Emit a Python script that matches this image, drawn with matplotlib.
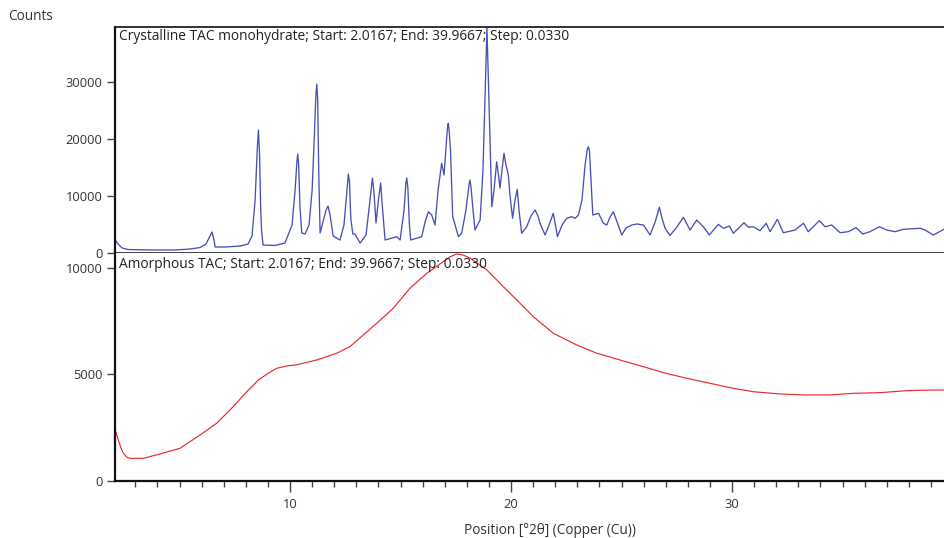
import matplotlib
matplotlib.use('Agg')
import matplotlib.pyplot as plt
from matplotlib.ticker import MultipleLocator

# --------- DATA -----------------------------------

cryst_x = [2.02, 2.22, 2.40, 2.67, 3.67, 4.80, 5.48, 5.93, 6.20, 6.38, 6.47, 6.56, 6.61, 7.06, 7.74, 8.10,
           8.28, 8.42, 8.52, 8.57, 8.62, 8.67, 8.71, 8.78, 9.32, 9.77, 10.09, 10.23, 10.31, 10.35, 10.39,
           10.45, 10.53, 10.68, 10.86, 11.00, 11.11, 11.17, 11.21, 11.25, 11.30, 11.36, 11.49, 11.63, 11.72,
           11.81, 11.95, 12.26, 12.44, 12.58, 12.64, 12.69, 12.75, 12.84, 12.94, 13.17, 13.44, 13.62, 13.73,
           13.79, 13.89, 14.00, 14.10, 14.19, 14.30, 14.83, 14.98, 15.16, 15.24, 15.28, 15.33, 15.40, 15.46,
           15.96, 16.11, 16.26, 16.41, 16.56, 16.70, 16.86, 16.97, 17.08, 17.13, 17.16, 17.20, 17.26, 17.36,
           17.62, 17.77, 17.96, 18.10, 18.14, 18.19, 18.28, 18.37, 18.60, 18.73, 18.82, 18.91, 19.00, 19.13,
           19.23, 19.35, 19.43, 19.50, 19.59, 19.68, 19.77, 19.88, 19.95, 20.07, 20.18, 20.28, 20.36, 20.48,
           20.71, 20.90, 21.09, 21.22, 21.31, 21.54, 21.72, 21.91, 22.01, 22.10, 22.31, 22.52, 22.75, 22.90,
           23.05, 23.21, 23.35, 23.45, 23.50, 23.55, 23.62, 23.70, 23.96, 24.18, 24.33, 24.48, 24.63, 24.80,
           25.01, 25.20, 25.46, 25.70, 25.99, 26.29, 26.52, 26.71, 26.83, 26.97, 27.19, 27.47, 27.80, 28.10,
           28.40, 28.70, 28.97, 29.38, 29.61, 29.88, 30.06, 30.54, 30.74, 30.96, 31.27, 31.54, 31.72, 32.05,
           32.32, 32.85, 33.23, 33.45, 33.95, 34.21, 34.51, 34.89, 35.26, 35.61, 35.91, 36.24, 36.67, 37.00,
           37.38, 37.75, 38.51, 38.73, 39.11, 39.59, 39.97]
cryst_y = [2630, 1580, 880, 610, 530, 530, 700, 960, 1580, 2980, 3680, 2280, 1050, 1050, 1230, 1580,
           2980, 9300, 18500, 21570, 17500, 8000, 4030, 1400, 1320, 1750, 4900, 11050, 16000, 17360, 15500,
           8000, 3510, 3330, 4910, 11050, 21570, 27800, 29640, 27000, 14000, 3510, 5440, 7540, 8240,
           6670, 2980, 2280, 4910, 11050, 13860, 12500, 6000, 3330, 3330, 1750, 3160, 9300, 13150,
           11000, 5260, 9300, 12280, 7540, 2280, 2860, 2280, 7540, 12200, 13150, 11500, 5000, 2280,
           2860, 5440, 7240, 6670, 4910, 11050, 15730, 13680, 19820, 22200, 22750, 21500, 18070, 6370,
           2860, 3510, 7540, 12000, 12800, 11500, 7540, 4030, 5790, 14560, 26840, 39500, 26840, 8120,
           11050, 16010, 13680, 11400, 14560, 17490, 15440, 13680, 10170, 6090, 9300, 11170, 7540, 3460,
           4610, 6490, 7540, 6490, 5210, 3160, 4910, 6960, 4910, 2860, 4910, 6090, 6370, 6090,
           6670, 9300, 15440, 18200, 18650, 17800, 12500, 6670, 6960, 5210, 4910, 6310, 7240, 5440,
           3160, 4390, 4910, 5090, 4910, 3160, 5440, 8020, 6140, 4330, 3070, 4390, 6260, 4030,
           5790, 4610, 3160, 5030, 4330, 4740, 3460, 5310, 4510, 4610, 3910, 5210, 3740, 5910,
           3560, 4030, 5210, 3740, 5670, 4610, 4910, 3560, 3740, 4440, 3330, 3740, 4610, 4030,
           3740, 4160, 4330, 4030, 3160, 4160, 4200]

amorph_x = [2.02, 2.10, 2.23, 2.35, 2.46, 2.60, 2.76, 3.36, 4.12, 5.02, 5.93, 6.68, 7.43, 8.04, 8.57,
            9.00, 9.40, 9.85, 10.30, 11.21, 12.11, 12.71, 13.32, 13.92, 14.67, 15.43, 16.19, 16.94,
            17.20, 17.54, 17.85, 18.14, 18.50, 18.90, 19.65, 20.41, 21.01, 21.91, 22.97, 23.88, 24.93,
            25.99, 26.89, 27.95, 29.00, 30.06, 30.96, 32.17, 33.23, 34.43, 35.49, 36.70, 37.90, 39.11,
            39.59, 39.97]
amorph_y = [2790, 2350, 1925, 1550, 1300, 1130, 1065, 1065, 1270, 1535, 2160, 2710, 3490, 4190, 4740,
            5050, 5290, 5400, 5450, 5680, 5995, 6305, 6855, 7400, 8110, 9050, 9750, 10300,
            10500, 10660, 10600, 10460, 10200, 9910, 9120, 8340, 7710, 6935, 6385, 5995, 5680,
            5365, 5085, 4820, 4585, 4350, 4190, 4085, 4040, 4040, 4115, 4145, 4240, 4270,
            4270, 4280]

top_label = 'Crystalline TAC monohydrate; Start: 2.0167; End: 39.9667; Step: 0.0330'
bot_label = 'Amorphous TAC; Start: 2.0167; End: 39.9667; Step: 0.0330'

# --------------------------

plt.rcParams['font.family'] = ['Open Sans', 'DejaVu Sans']

txt_col = '#333333'
fh = plt.figure(figsize=(9.44, 5.38), dpi=100)

left = 115/944.
ax1 = fh.add_axes([left, 1-253/538., 1-left, (253-27)/538.])
ax2 = fh.add_axes([left, 1-481/538., 1-left, (481-253)/538.])

ax1.plot(cryst_x, cryst_y, color='#4a4fb3', linewidth=0.95)
ax2.plot(amorph_x, amorph_y, color='#e82a2e', linewidth=0.85)

for ax in (ax1, ax2):
    ax.set_xlim([2.08, 39.59])
    ax.spines['right'].set_visible(False)
    ax.spines['left'].set_linewidth(1.6)
    ax.spines['left'].set_color('#111111')
    ax.tick_params(axis='y', direction='out', length=6, width=1, color='#444444',
                   labelcolor=txt_col, labelsize=9.3, pad=3)
    ax.xaxis.set_major_locator(MultipleLocator(10))
    ax.xaxis.set_minor_locator(MultipleLocator(1))

ax1.set_ylim([0, 39650])
ax1.set_yticks([0, 10000, 20000, 30000])
ax1.spines['top'].set_linewidth(1.3)
ax1.spines['top'].set_color('#222222')
ax1.spines['bottom'].set_linewidth(1.3)
ax1.spines['bottom'].set_color('#333333')
ax1.tick_params(axis='x', which='both', bottom=False, labelbottom=False)

ax2.set_ylim([0, 10700])
ax2.set_yticks([0, 5000, 10000])
ax2.spines['top'].set_visible(False)
ax2.spines['bottom'].set_linewidth(1.6)
ax2.spines['bottom'].set_color('#111111')
ax2.tick_params(axis='x', which='major', direction='out', length=8, width=1, color='#444444',
                labelcolor=txt_col, labelsize=9.3, pad=4)
ax2.tick_params(axis='x', which='minor', direction='out', length=4.5, width=1, color='#444444')

ax1.text(4/829., 1-10/226., top_label, transform=ax1.transAxes, va='center', ha='left',
         fontsize=9.9, color='#222222')
ax2.text(4/829., 1-12/228., bot_label, transform=ax2.transAxes, va='center', ha='left',
         fontsize=9.9, color='#222222')

fh.text(8/944., 1-17/538., 'Counts', va='center', ha='left', fontsize=9.8, color=txt_col)
fh.text(550/944., 1-530/538., 'Position [°2θ] (Copper (Cu))', va='center', ha='center',
        fontsize=9.8, color=txt_col)

plt.savefig('out.png', dpi=100)
